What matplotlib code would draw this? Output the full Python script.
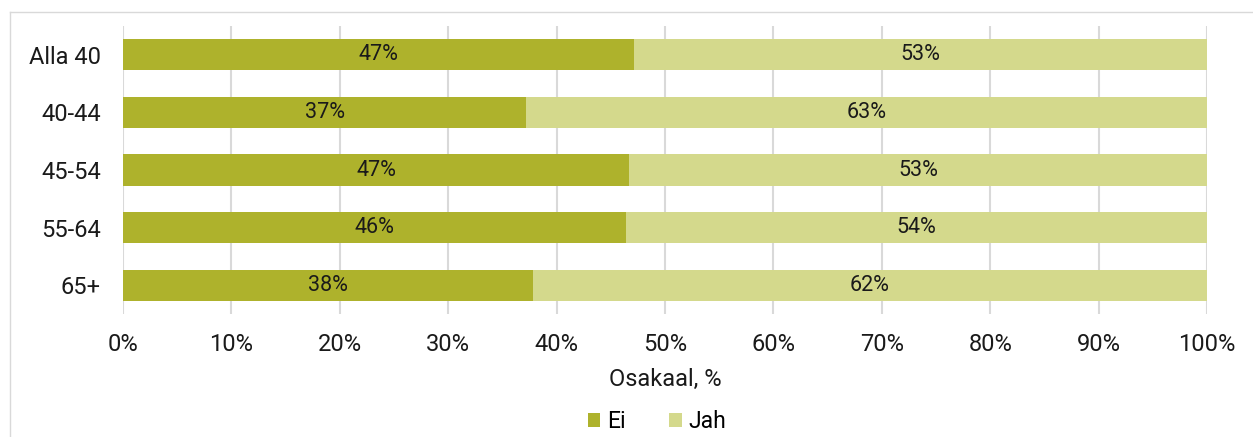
import matplotlib.pyplot as plt
from matplotlib.lines import Line2D

# data
categories = ['Alla 40', '40-44', '45-54', '55-64', '65+']
ei = [47.1, 37.2, 46.7, 46.4, 37.8]
jah = [52.9, 62.8, 53.3, 53.6, 62.2]
ticks = [0, 10, 20, 30, 40, 50, 60, 70, 80, 90, 100]

dark = '#AEB22C'
light = '#D4D98C'
grid_col = '#D9D9D9'

plt.rcParams['font.family'] = ['Roboto', 'DejaVu Sans']

fig = plt.figure(figsize=(12.53, 4.37), dpi=100)
ax = fig.add_axes([123 / 1253, 1 - 314 / 437, (1207 - 123) / 1253, (314 - 26) / 437])

y = list(range(len(categories)))
b1 = ax.barh(y, ei, height=0.54, color=dark, label='Ei', zorder=2)
b2 = ax.barh(y, jah, left=ei, height=0.54, color=light, label='Jah', zorder=2)

for i in range(len(categories)):
    ax.text(ei[i] / 2, i, f'{round(ei[i])}%', ha='center', va='center', fontsize=15.5, color='#1a1a1a')
    ax.text(ei[i] + jah[i] / 2, i, f'{round(jah[i])}%', ha='center', va='center', fontsize=15.5, color='#1a1a1a')

ax.set_xlim(0, 100)
ax.set_ylim(len(categories) - 0.5, -0.5)
ax.set_xticks(ticks)
ax.set_xticklabels([f'{t}%' for t in ticks])
ax.set_yticks(y)
ax.set_yticklabels(categories)
ax.tick_params(axis='both', length=0, labelsize=17, colors='#1a1a1a')
ax.tick_params(axis='x', pad=14)
ax.tick_params(axis='y', pad=16)
ax.xaxis.grid(True, color=grid_col, linewidth=1.5, zorder=0)
ax.set_axisbelow(True)
for s in ax.spines.values():
    s.set_visible(False)

ax.set_xlabel('Osakaal, %', fontsize=17, color='#1a1a1a', labelpad=8)

fig.legend(handles=[b1, b2], labels=['Ei', 'Jah'], loc='center', bbox_to_anchor=(657 / 1253, 1 - 422 / 437),
           ncol=2, frameon=False, fontsize=16.5, handlelength=0.55, handleheight=0.55,
           handletextpad=0.3, columnspacing=1.9)

# outer chart frame (left and top edges visible)
fig.add_artist(Line2D([10 / 1253, 10 / 1253], [0, 1 - 12 / 437], transform=fig.transFigure, color=grid_col, lw=1))
fig.add_artist(Line2D([10 / 1253, 1], [1 - 12 / 437, 1 - 12 / 437], transform=fig.transFigure, color=grid_col, lw=1))

fig.savefig('out.png', dpi=100)
